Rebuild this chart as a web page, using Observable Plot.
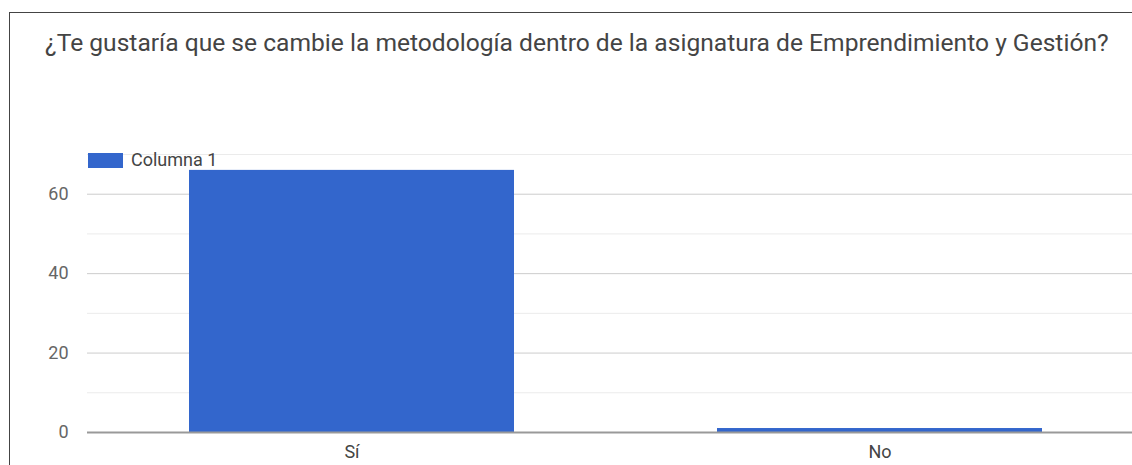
<!DOCTYPE html>
<html>
<head>
<meta charset="utf-8">
<script src="https://cdn.jsdelivr.net/npm/d3@7"></script>
<script src="https://cdn.jsdelivr.net/npm/@observablehq/plot@0.6"></script>
<style>
  html, body { margin: 0; padding: 0; background: #fff; }
  #wrap { position: relative; width: 1132px; height: 465px; overflow: hidden; font-family: Roboto, "Noto Sans", sans-serif; }
  #frame { position: absolute; left: 9px; top: 12px; right: -5px; bottom: -5px; border-left: 1.5px solid #444; border-top: 1.5px solid #444; }
  #title { position: absolute; left: 45px; top: 29px; font-size: 24.6px; line-height: 28px; color: #444; white-space: nowrap; }
  #legend { position: absolute; left: 88px; top: 151px; font-size: 18px; line-height: 18px; color: #444; display: flex; align-items: center; }
  #legend .sw { width: 35px; height: 15px; background: #3366cc; margin-right: 8px; }
  #chart { position: absolute; left: 0; top: 0; width: 1160px; }
  #chart svg { max-width: none !important; }
</style>
</head>
<body>
<div id="wrap">
  <div id="frame"></div>
  <div id="chart"></div>
  <div id="title">¿Te gustaría que se cambie la metodología dentro de la asignatura de Emprendimiento y Gestión?</div>
  <div id="legend"><div class="sw"></div><span>Columna 1</span></div>
</div>
<script>
const categories = ["Sí", "No"];
const values = [66, 1];
const seriesName = "Columna 1";
const majorTicks = [0, 20, 40, 60];
const minorTicks = [10, 30, 50, 70];

const data = categories.map((c, i) => ({category: c, value: values[i], series: seriesName}));

const chart = Plot.plot({
  width: 1160,
  height: 465,
  marginTop: 154, marginBottom: 33, marginLeft: 87, marginRight: 0,
  style: {fontFamily: "Roboto, sans-serif", background: "transparent", overflow: "hidden"},
  x: {domain: categories, range: [87, 1143], paddingInner: 0.385, paddingOuter: 0.1925, label: null},
  y: {domain: [0, 70], range: [432, 154], label: null},
  marks: [
    Plot.ruleY(minorTicks, {stroke: "#ebebeb", strokeWidth: 1}),
    Plot.ruleY(majorTicks.filter(d => d !== 0), {stroke: "#cccccc", strokeWidth: 1}),
    Plot.barY(data, {x: "category", y: "value", fill: "#3366cc"}),
    Plot.ruleY([0], {stroke: "#999", strokeWidth: 2}),
    Plot.axisY(majorTicks, {tickSize: 0, tickPadding: 19, fontSize: 18, fill: "#666", label: null}),
    Plot.axisX({tickSize: 0, tickPadding: 13, fontSize: 18, fill: "#444", label: null})
  ]
});
document.getElementById("chart").appendChild(chart);
</script>
</body>
</html>
